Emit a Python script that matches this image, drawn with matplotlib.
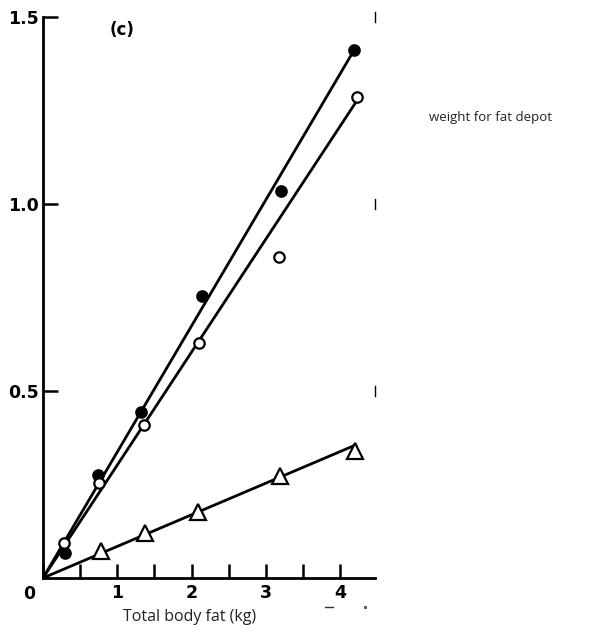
import numpy as np
import matplotlib.pyplot as plt
from matplotlib.ticker import MultipleLocator

# total body fat (kg) against fat depot weight (kg)
fat_filled_x = [0.30, 0.74, 1.32, 2.14, 3.20, 4.19]
fat_filled_y = [0.067, 0.275, 0.444, 0.754, 1.035, 1.412]
fat_open_x = [0.28, 0.75, 1.36, 2.10, 3.18, 4.23]
fat_open_y = [0.094, 0.254, 0.409, 0.628, 0.858, 1.286]
fat_tri_x = [0.78, 1.37, 2.09, 3.19, 4.20]
fat_tri_y = [0.072, 0.120, 0.176, 0.273, 0.340]

# regression lines through the origin (slope, end x)
line_slopes = [0.337, 0.302, 0.0845]
line_ends = [4.19, 4.20, 4.21]

x_ticks = [1, 2, 3, 4]
y_ticks = [0.5, 1.0, 1.5]
y_labels = ['0.5', '1.0', '1.5']

fig = plt.figure(figsize=(6.11, 6.33), dpi=100)
ax = fig.add_axes([0.0704, 0.0869, 0.5434, 0.8863])

series = [(fat_filled_x, fat_filled_y, 'o', 'black', 7.5),
          (fat_open_x, fat_open_y, 'o', 'white', 7.5),
          (fat_tri_x, fat_tri_y, '^', 'white', 11)]
for (x, y, mk, fc, ms), k, xe in zip(series, line_slopes, line_ends):
    xs = np.array([0, xe])
    ax.plot(xs, k * xs, color='black', lw=2, zorder=2)
    ax.plot(x, y, mk, ms=ms, mfc=fc, mec='black', mew=1.6, zorder=3,
            clip_on=False)

ax.set_xlim(0, 4.47)
ax.set_ylim(0, 1.5)
for s in ['top', 'right']:
    ax.spines[s].set_visible(False)
for s in ['left', 'bottom']:
    ax.spines[s].set_linewidth(2)

ax.set_xticks(x_ticks)
ax.xaxis.set_minor_locator(MultipleLocator(0.5))
ax.set_yticks(y_ticks)
ax.set_yticklabels(y_labels)
ax.tick_params(axis='x', which='both', direction='in', length=10, width=1.8,
               labelsize=12.5, pad=4)
ax.tick_params(axis='y', direction='in', length=11, width=1.8,
               labelsize=12.5, pad=3)
for lab in ax.get_xticklabels() + ax.get_yticklabels():
    lab.set_fontweight('bold')

ax.text(-0.19, -0.018, '0', ha='center', va='top', fontsize=12.5,
        fontweight='bold', clip_on=False)
ax.text(1.06, 1.466, '(c)', fontsize=12, fontweight='bold', ha='center',
        va='center')

# small stray marks along the right edge and under the axis
for yy in y_ticks:
    ax.plot([4.47, 4.47], [yy - 0.014, yy + 0.014], color='black', lw=1,
            clip_on=False)
ax.plot([3.8, 3.9], [-0.078, -0.078], color='#333333', lw=1, clip_on=False)
ax.plot([4.33], [-0.078], 's', ms=1.2, color='#555555', clip_on=False)

fig.text(0.311, 0.025, 'Total body fat (kg)', ha='center', va='center',
         fontsize=11.5, family='Open Sans', color='#222222')
fig.text(0.803, 0.814, 'weight for fat depot', ha='center', va='center',
         fontsize=9.5, family='Open Sans', color='#222222')

fig.savefig('out.png', dpi=100)
